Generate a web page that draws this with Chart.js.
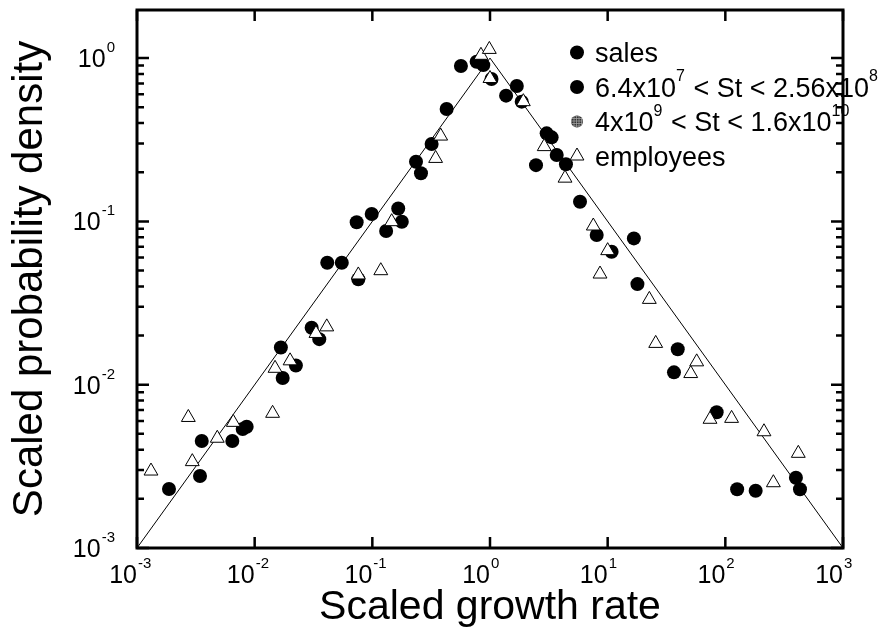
<!DOCTYPE html>
<html>
<head>
<meta charset="utf-8">
<script src="https://cdn.jsdelivr.net/npm/chart.js@4.4.1/dist/chart.umd.min.js"></script>
<style>
  html, body { margin: 0; padding: 0; background: #fff; }
  canvas { display: block; }
</style>
</head>
<body>
<canvas id="chart" width="893" height="632"></canvas>
<script>
// sales (filled circles)
const salesX = [0.00187, 0.00343, 0.00355, 0.00646, 0.00791, 0.00855, 0.0167, 0.0173, 0.0224, 0.0305,
                0.0354, 0.0414, 0.055, 0.0736, 0.076, 0.0988, 0.131, 0.166, 0.178, 0.235,
                0.259, 0.319, 0.428, 0.566, 0.77, 0.877, 1.03, 1.37, 1.69, 1.86,
                2.46, 3.03, 3.34, 3.69, 4.42, 5.82, 8.07, 10.8, 16.7, 17.9,
                36.6, 39.4, 84.4, 126, 181, 398, 431];
const salesY = [0.0023, 0.00276, 0.00452, 0.00452, 0.00535, 0.00553, 0.0169, 0.011, 0.0131, 0.0223,
                0.019, 0.0558, 0.0558, 0.0987, 0.0442, 0.111, 0.0873, 0.12, 0.0995, 0.232,
                0.197, 0.298, 0.488, 0.894, 0.95, 0.906, 0.744, 0.589, 0.674, 0.541,
                0.221, 0.346, 0.327, 0.255, 0.224, 0.132, 0.0826, 0.0652, 0.0787, 0.0413,
                0.0119, 0.0165, 0.00678, 0.00229, 0.00224, 0.00269, 0.00229];

// employees (open triangles)
const empX = [0.001315, 0.00273, 0.00295, 0.00481, 0.00658, 0.0142, 0.0149, 0.02, 0.0332, 0.041,
              0.076, 0.118, 0.146, 0.345, 0.381, 0.838, 0.987, 1.0, 1.92, 2.89,
              4.34, 7.55, 8.61, 10.0, 22.6, 25.6, 50.8, 57.1, 74.1, 113,
              213, 256, 417];
const empY = [0.00296, 0.0063, 0.00338, 0.0047, 0.00588, 0.00668, 0.0126, 0.014, 0.0206, 0.0226,
              0.047, 0.0499, 0.0996, 0.243, 0.333, 1.04, 1.13, 0.75, 0.541, 0.287,
              0.184, 0.0937, 0.0476, 0.0662, 0.0333, 0.0179, 0.0117, 0.0138, 0.00614, 0.00622,
              0.00515, 0.00251, 0.0038];

// tent-shaped reference line
const fitX = [0.001, 1, 1000];
const fitY = [0.001, 1, 0.001];

const xTicks = [1e-3, 1e-2, 1e-1, 1e0, 1e1, 1e2, 1e3];
const xTickExp = ['-3', '-2', '-1', '0', '1', '2', '3'];
const yTicks = [1e-3, 1e-2, 1e-1, 1e0];
const yTickExp = ['-3', '-2', '-1', '0'];

const legendLabels = ['sales', '6.4x10^{7} < St < 2.56x10^{8}', '4x10^{9} < St < 1.6x10^{10}', 'employees'];
const legendMarks = ['dot', 'dot', 'hatch', 'tri'];

const FONT = '"Liberation Sans", Arial, Helvetica, sans-serif';

const toPts = (xs, ys) => xs.map((v, i) => ({ x: v, y: ys[i] }));

const decorations = {
  id: 'decorations',
  afterDraw(chart) {
    const { ctx, chartArea: a, scales: { x, y } } = chart;
    ctx.save();

    // legend (drawn under the frame, the text runs across the right axis)
    ctx.fillStyle = '#000';
    ctx.textAlign = 'left';
    ctx.textBaseline = 'alphabetic';
    legendLabels.forEach((label, i) => {
      const base = 62 + i * 34.5;
      const mx = 577, my = base - 9.5;
      if (legendMarks[i] === 'tri') {
        ctx.beginPath();
        ctx.moveTo(mx, my - 8);
        ctx.lineTo(mx + 6.9, my + 4);
        ctx.lineTo(mx - 6.9, my + 4);
        ctx.closePath();
        ctx.fillStyle = '#fff'; ctx.fill();
        ctx.strokeStyle = '#000'; ctx.lineWidth = 1; ctx.stroke();
        ctx.fillStyle = '#000';
      } else {
        ctx.beginPath();
        ctx.arc(mx, my, legendMarks[i] === 'hatch' ? 6 : 7, 0, Math.PI * 2);
        ctx.fillStyle = legendMarks[i] === 'hatch' ? '#333' : '#000';
        ctx.fill();
        if (legendMarks[i] === 'hatch') {
          ctx.save();
          ctx.clip();
          ctx.strokeStyle = '#aaa'; ctx.lineWidth = 0.7;
          ctx.beginPath();
          for (let k = -8; k <= 8; k += 2.5) {
            ctx.moveTo(mx + k, my - 8); ctx.lineTo(mx + k, my + 8);
            ctx.moveTo(mx - 8, my + k); ctx.lineTo(mx + 8, my + k);
          }
          ctx.stroke();
          ctx.restore();
        }
        ctx.fillStyle = '#000';
      }
      const parts = label.split(/\^\{(.*?)\}/);
      let cx = 595;
      parts.forEach((p, j) => {
        const sup = j % 2 === 1;
        ctx.font = (sup ? '16px ' : '27px ') + FONT;
        ctx.fillText(p, cx, sup ? base - 15.5 : base);
        cx += ctx.measureText(p).width + (sup ? 1 : 0);
      });
    });

    // frame
    ctx.strokeStyle = '#000';
    ctx.lineWidth = 3;
    ctx.strokeRect(a.left, a.top, a.right - a.left, a.bottom - a.top);

    // inward ticks
    ctx.lineWidth = 2.5;
    ctx.beginPath();
    xTicks.forEach(v => {
      const px = x.getPixelForValue(v);
      ctx.moveTo(px, a.bottom); ctx.lineTo(px, a.bottom - 11);
      ctx.moveTo(px, a.top); ctx.lineTo(px, a.top + 11);
    });
    yTicks.forEach(v => {
      const py = y.getPixelForValue(v);
      ctx.moveTo(a.left, py); ctx.lineTo(a.left + 12, py);
      ctx.moveTo(a.right, py); ctx.lineTo(a.right - 12, py);
      for (let m = 2; m <= 9; m++) {
        if (v * m > y.max) break;
        const pm = y.getPixelForValue(v * m);
        ctx.moveTo(a.left, pm); ctx.lineTo(a.left + 7, pm);
        ctx.moveTo(a.right, pm); ctx.lineTo(a.right - 7, pm);
      }
    });
    ctx.stroke();

    // tick labels with superscripts
    ctx.fillStyle = '#000';
    xTicks.forEach((v, i) => {
      const px = x.getPixelForValue(v);
      ctx.textAlign = 'right';
      ctx.font = '25px ' + FONT;
      ctx.fillText('10', px, a.bottom + 35);
      ctx.textAlign = 'left';
      ctx.font = '15px ' + FONT;
      ctx.fillText(xTickExp[i], px + 1, a.bottom + 20);
    });
    yTicks.forEach((v, i) => {
      const py = y.getPixelForValue(v);
      ctx.textAlign = 'right';
      ctx.font = '15px ' + FONT;
      ctx.fillText(yTickExp[i], 115, py - 6);
      const w = ctx.measureText(yTickExp[i]).width;
      ctx.font = '25px ' + FONT;
      ctx.fillText('10', 115 - w - 1, py + 9);
    });
    ctx.restore();
  }
};

new Chart(document.getElementById('chart'), {
  type: 'scatter',
  data: {
    datasets: [
      {
        label: 'employees',
        data: toPts(empX, empY),
        pointStyle: 'triangle',
        pointRadius: 8,
        backgroundColor: '#fff',
        borderColor: '#000',
        borderWidth: 1,
        order: 0
      },
      {
        label: 'sales',
        data: toPts(salesX, salesY),
        pointStyle: 'circle',
        pointRadius: 7,
        backgroundColor: '#000',
        borderColor: '#000',
        borderWidth: 0,
        order: 1
      },
      {
        label: 'fit',
        data: toPts(fitX, fitY),
        showLine: true,
        pointRadius: 0,
        borderColor: '#000',
        borderWidth: 1,
        order: 2
      }
    ]
  },
  options: {
    responsive: false,
    devicePixelRatio: 1,
    animation: false,
    events: [],
    layout: { padding: { top: 10, right: 50, left: 0, bottom: 0 } },
    plugins: { legend: { display: false }, tooltip: { enabled: false } },
    scales: {
      x: {
        type: 'logarithmic',
        min: 1e-3,
        max: 1e3,
        grid: { display: false },
        border: { display: false },
        ticks: { display: false },
        title: {
          display: true,
          text: 'Scaled growth rate',
          color: '#000',
          font: { family: FONT, size: 41 },
          padding: { top: 0, bottom: 0 }
        },
        afterFit: s => { s.height = 84; }
      },
      y: {
        type: 'logarithmic',
        min: 1e-3,
        max: 1.97,
        grid: { display: false },
        border: { display: false },
        ticks: { display: false },
        title: {
          display: true,
          text: 'Scaled probability density',
          color: '#000',
          font: { family: FONT, size: 42 },
          padding: { top: 5, bottom: 0 }
        },
        afterFit: s => { s.width = 137; }
      }
    }
  },
  plugins: [decorations]
});
</script>
</body>
</html>
